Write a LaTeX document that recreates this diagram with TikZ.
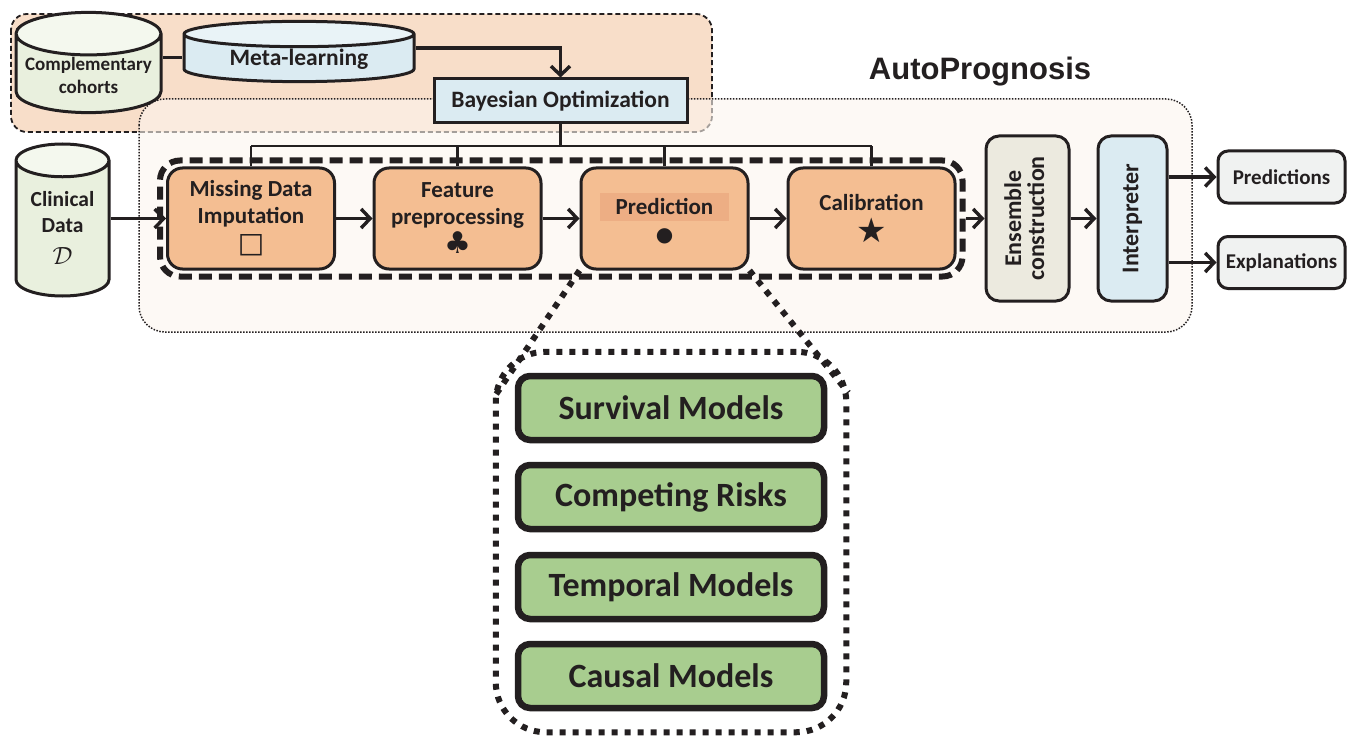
\documentclass[tikz,border=0pt]{standalone}
\usepackage{fontspec}
\setmainfont{Carlito}
\newfontfamily\titlefont{Liberation Sans}
\newfontfamily\symfont{DejaVu Sans}
\usetikzlibrary{shapes.geometric,arrows.meta,positioning,fit}

\definecolor{ink}{HTML}{231F20}
\definecolor{metabg}{HTML}{F8DEC9}
\definecolor{autobg}{HTML}{FCF5EE}
\definecolor{stagefill}{HTML}{F4BE92}
\definecolor{predhl}{HTML}{EDAE84}
\definecolor{datagreen}{HTML}{E9F0DE}
\definecolor{skyblue}{HTML}{DBEBF2}
\definecolor{ensfill}{HTML}{ECEADF}
\definecolor{outfill}{HTML}{F0F2F1}
\definecolor{modelfill}{HTML}{A8CD8F}

\newcommand{\glyphsize}[1]{\mdseries\symfont\fontsize{#1}{#1}\selectfont}

\tikzset{
  wire/.style={draw=ink, line width=2.5pt},
  arr/.style={draw=ink, line width=3.4pt, -{Straight Barb[length=9pt,width=19pt]}},
  stagebox/.style={draw=ink, line width=3pt, fill=stagefill, rounded corners=15pt,
    minimum width=167pt, minimum height=101pt, align=center, text=ink,
    font=\bfseries\fontsize{23}{27}\selectfont},
  sidebox/.style={draw=ink, line width=3pt, rounded corners=13pt, minimum height=165pt,
    text=ink, font=\bfseries\fontsize{24}{26}\selectfont},
  outbox/.style={draw=ink, line width=3pt, fill=outfill, rounded corners=10pt,
    minimum width=127pt, minimum height=52pt, text=ink, font=\bfseries\fontsize{21}{24}\selectfont},
  modelbox/.style={draw=ink, line width=6.5pt, fill=modelfill, rounded corners=12pt,
    minimum width=306pt, minimum height=64pt, text=ink, font=\bfseries\fontsize{34}{38}\selectfont},
  zoomdots/.style={draw=ink, line width=6pt, dash pattern=on 6pt off 7pt},
  dbgreen/.style={cylinder, shape border rotate=90, anchor=shape center, draw=ink, line width=3pt,
    inner sep=1pt, cylinder uses custom fill, cylinder body fill=datagreen,
    cylinder end fill=datagreen!50!white, align=center, text=ink,
    font=\bfseries\fontsize{19}{23}\selectfont},
  dbblue/.style={dbgreen, cylinder body fill=skyblue, cylinder end fill=skyblue!60!white,
    font=\bfseries\fontsize{23.5}{26}\selectfont},
}

\begin{document}
\begin{tikzpicture}[x=1pt, y=-1pt]
    \useasboundingbox (0,0) rectangle (1348,738);

    % Meta-learning region (top)
    \draw[fill=metabg, draw=ink, line width=1.8pt, dash pattern=on 5pt off 3pt, rounded corners=16pt]
        (11,14) rectangle (712,132);

    % AutoPrognosis region
    \draw[fill=autobg, fill opacity=0.6, draw=ink, line width=1.5pt, dash pattern=on 1.5pt off 1.5pt,
        rounded corners=26pt] (139,99) rectangle (1192,332);
    \node[font=\titlefont\bfseries\fontsize{31}{34}\selectfont, text=ink] (title) at (980,72) {AutoPrognosis};

    % Data sources
    \node[dbgreen, minimum width=145pt, minimum height=85pt, aspect=0.33] (comp) at (88.5,62.5)
        {Complementary\\cohorts};
    \node[dbblue, minimum width=230pt, minimum height=51pt, aspect=0.18] (meta) at (299,51.5)
        {Meta-learning};
    \node[dbgreen, minimum width=93pt, minimum height=152pt, aspect=0.5,
        font=\bfseries\fontsize{21.5}{26}\selectfont] (clin) at (62.5,220)
        {\raisebox{7pt}{\begin{tabular}{@{}c@{}}Clinical\\Data\\[6pt]{\mdseries\fontsize{30}{30}\selectfont$\mathcal{D}$}\end{tabular}}};

    \node[draw=ink, line width=3pt, fill=skyblue, minimum width=253pt, minimum height=44pt, text=ink,
        font=\bfseries\fontsize{23.5}{26}\selectfont] (bayes) at (560.5,101) {Bayesian Optimization};

    % Pipeline stages
    \node[stagebox] (mdi) at (251,218.5) {Missing Data\\Imputation\\[2pt]{\glyphsize{28}□}};
    \node[stagebox] (feat) at (457.5,218.5) {Feature\\preprocessing\\[2pt]{\glyphsize{30}♣}};
    \node[stagebox] (pred) at (664.5,218.5)
        {{\setlength{\fboxsep}{6pt}\colorbox{predhl}{\makebox[117pt]{Prediction}}}\\[0pt]{\glyphsize{20}●}};
    \node[stagebox] (cal) at (871.5,218.5) {Calibration\\[5pt]{\glyphsize{34}★}};
    \node[draw=ink, line width=6pt, dash pattern=on 13pt off 7pt, rounded corners=20pt,
        inner sep=6pt, fit=(mdi)(cal)] (pipe) {};

    % Ensemble, interpreter and outputs
    \node[sidebox, fill=ensfill, minimum width=83pt] (ens) at (1027.5,218.5)
        {\rotatebox{90}{\begin{tabular}{@{}c@{}}Ensemble\\[-3pt]construction\end{tabular}}};
    \node[sidebox, fill=skyblue, minimum width=69pt] (interp) at (1132.5,218.5)
        {\rotatebox{90}{Interpreter}};
    \node[outbox] (outpred) at (1281.5,177) {Predictions};
    \node[outbox] (outexp) at (1281.5,262.5) {Explanations};

    % Prediction models (zoom)
    \node[modelbox] (surv) at (671,408) {Survival Models};
    \node[modelbox] (comprisk) at (671,497) {Competing Risks};
    \node[modelbox] (temp) at (671,587) {Temporal Models};
    \node[modelbox] (causal) at (671,676) {Causal Models};
    \node[zoomdots, rounded corners=50pt, inner xsep=19pt, inner ysep=21pt, fit=(surv)(causal)] (models) {};

    % Connectors
    \coordinate (busy) at (0,146);
    \draw[wire, line width=3pt] (comp.east |- 0,58) -- (meta.west |- 0,58);
    \draw[arr] (meta.east |- 0,48) -| (bayes.north);
    \draw[wire] (bayes.south) -- (bayes.south |- busy);
    \draw[wire] (mdi.north |- busy) -- (cal.north |- busy);
    \foreach \s in {mdi,feat,pred,cal}
        \draw[wire] (\s.north) -- (\s.north |- busy);
    \draw[arr] (clin.east |- mdi.west) -- (mdi.west);
    \draw[arr] (mdi) -- (feat);
    \draw[arr] (feat) -- (pred);
    \draw[arr] (pred) -- (cal);
    \draw[arr] (pipe.east |- ens.west) -- (ens.west);
    \draw[arr] (ens) -- (interp);
    \draw[arr] (interp.east |- outpred.west) -- (outpred.west);
    \draw[arr] (interp.east |- outexp.west) -- (outexp.west);

    % Zoom lines
    \coordinate (zoomleft) at ([shift={(1,49)}]models.north west);
    \coordinate (zoomright) at ([shift={(-1,44)}]models.north east);
    \draw[zoomdots] (pred.south west) -- (zoomleft);
    \draw[zoomdots] (pred.south east) -- (zoomright);
\end{tikzpicture}
\end{document}
